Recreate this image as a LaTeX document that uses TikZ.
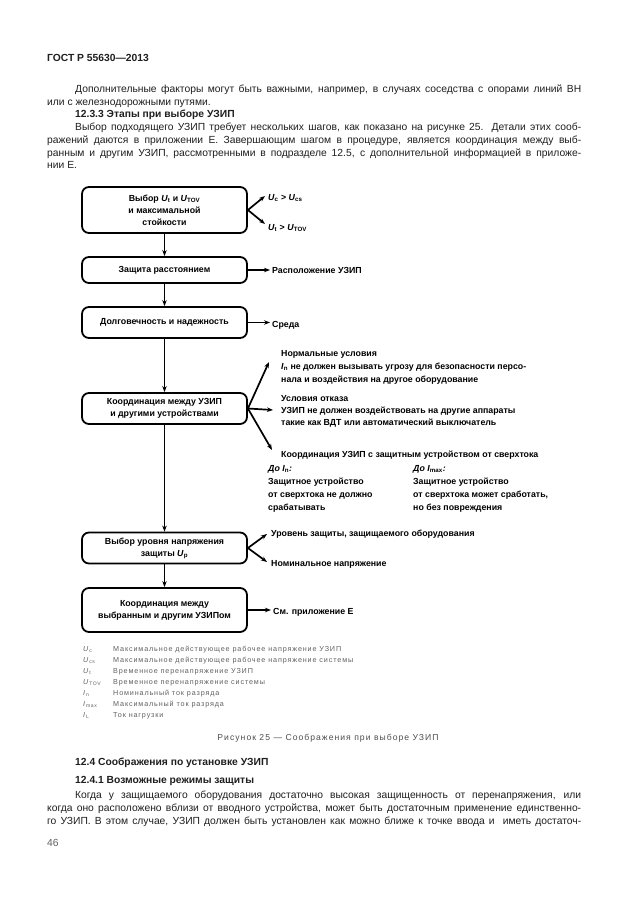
\documentclass[tikz,border=0pt]{standalone}
\usepackage{fontspec}
\setmainfont{Liberation Sans}
\newfontfamily\legfont[LetterSpace=12]{Liberation Sans}
\usetikzlibrary{arrows.meta}
\definecolor{ink}{gray}{0.12}
\definecolor{leg}{gray}{0.38}
\newcommand\bodysz{\fontsize{10.3}{12.7}\selectfont}
\newcommand\dsz{\fontsize{8.8}{12}\selectfont\bfseries}
\newcommand\jl[2]{\makebox[#1][s]{#2}}
\newcommand\sbs[1]{\textsubscript{#1}}
\begin{document}
\begin{tikzpicture}[x=1pt,y=-1pt,
  body/.style={anchor=base west, inner sep=0pt, font=\bodysz, text=ink},
  legt/.style={anchor=base west, inner sep=0pt, font=\legfont\fontsize{7.2}{9}\selectfont, text=leg},
  box/.style={draw, line width=1.8pt, rounded corners=7pt, minimum width=165pt, align=center, font=\dsz, inner sep=2pt},
  arr/.style={line width=1.7pt, -{Stealth[length=6pt,width=4.5pt]}},
  lbl/.style={anchor=base west, inner sep=0pt, font=\dsz},
]
\useasboundingbox[fill=white] (0,0) rectangle (630,913);

% ---- header and text above ----
\node[body] (hdr) at (47,61) {\bfseries ГОСТ Р 55630—2013};
\node[body] (p1) at (75,92.5) {\jl{506pt}{Дополнительные факторы могут быть важными, например, в случаях соседства с опорами линий ВН}};
\node[body] (p2) at (47,105.2) {или с железнодорожными путями.};
\node[body] (p3) at (75,117.9) {\bfseries 12.3.3 Этапы при выборе УЗИП};
\node[body] (p4) at (75,130.6) {\jl{506pt}{Выбор подходящего УЗИП требует нескольких шагов, как показано на рисунке 25. Детали этих сооб-}};
\node[body] (p5) at (47,143.3) {\jl{534pt}{ражений даются в приложении Е. Завершающим шагом в процедуре, является координация между выб-}};
\node[body] (p6) at (47,156) {\jl{534pt}{ранным и другим УЗИП, рассмотренными в подразделе 12.5, с дополнительной информацией в приложе-}};
\node[body] (p7) at (47,168.7) {нии Е.};

% ---- boxes ----
\node[box, minimum height=46pt] (b1) at (164.5,210) {Выбор \textit{U}\sbs{t} и \textit{U}\sbs{TOV}\\и максимальной\\стойкости};
\node[box, minimum height=26pt] (b2) at (164.5,270) {Защита расстоянием};
\node[box, minimum height=31pt] (b3) at (164.5,322.5) {Долговечность и надежность};
\node[box, minimum height=31pt] (b4) at (164.5,408.5) {Координация между УЗИП\\и другими устройствами};
\node[box, minimum height=31pt] (b5) at (164.5,548) {Выбор уровня напряжения\\защиты \textit{U}\sbs{p}};
\node[box, minimum height=44pt] (b6) at (164.5,610) {Координация между\\выбранным и другим УЗИПом};

\draw[arr] (b1) -- (b2);
\draw[arr] (b2) -- (b3);
\draw[arr] (b3) -- (b4);
\draw[arr] (b4) -- (b5);
\draw[arr] (b5) -- (b6);

% ---- right side of box 1 ----
\node[lbl] (r1a) at (268,200) {\textit{U}\sbs{c} > \textit{U}\sbs{cs}};
\node[lbl] (r1b) at (268,230) {\textit{U}\sbs{t} > \textit{U}\sbs{TOV}};
\coordinate (t1a) at (265,196);
\coordinate (t1b) at (265,224);
\draw[arr] (b1.east) -- (t1a);
\draw[arr] (b1.east) -- (t1b);

% ---- boxes 2, 3 ----
\node[lbl] (r2) at (272,273) {Расположение УЗИП};
\coordinate (t2) at (270,270);
\draw[arr] (b2.east) -- (t2);
\node[lbl] (r3) at (272,327) {Среда};
\coordinate (t3) at (270,322.5);
\draw[arr] (b3.east) -- (t3);

% ---- box 4 ----
\node[lbl] (n1) at (281,356) {Нормальные условия};
\node[lbl] (n2) at (281,369.5) {\textit{I}\sbs{n} не должен вызывать угрозу для безопасности персо-};
\node[lbl] (n3) at (281,382) {нала и воздействия на другое оборудование};
\node[lbl] (f1) at (281,401) {Условия отказа};
\node[lbl] (f2) at (281,413) {УЗИП не должен воздействовать на другие аппараты};
\node[lbl] (f3) at (281,425) {такие как ВДТ или автоматический выключатель};
\node[lbl] (c1) at (281,457) {Координация УЗИП с защитным устройством от сверхтока};
\node[lbl] (c2) at (268,471) {\textit{До I}\sbs{n}\textit{:}};
\node[lbl] (c3) at (268,484) {Защитное устройство};
\node[lbl] (c4) at (268,497) {от сверхтока не должно};
\node[lbl] (c5) at (268,510) {срабатывать};
\node[lbl] (d2) at (413,471) {\textit{До I}\sbs{max}\textit{:}};
\node[lbl] (d3) at (413,484) {Защитное устройство};
\node[lbl] (d4) at (413,497) {от сверхтока может сработать,};
\node[lbl] (d5) at (413,510) {но без повреждения};
\coordinate (t4a) at (269,362);
\coordinate (t4b) at (273,410);
\coordinate (t4c) at (272,450);
\draw[arr] (b4.east) -- (t4a);
\draw[arr] (b4.east) -- (t4b);
\draw[arr] (b4.east) -- (t4c);

% ---- box 5 ----
\node[lbl] (r5a) at (271,536) {Уровень защиты, защищаемого оборудования};
\node[lbl] (r5b) at (271,566) {Номинальное напряжение};
\coordinate (t5a) at (267,534);
\coordinate (t5b) at (267,562);
\draw[arr] (b5.east) -- (t5a);
\draw[arr] (b5.east) -- (t5b);

% ---- box 6 ----
\node[lbl] (r6) at (273,614) {См. приложение Е};
\coordinate (t6) at (271,610);
\draw[arr] (b6.east) -- (t6);

% ---- legend ----
\node[legt] (s1) at (83,651.5) {\textit{U}\sbs{c}};
\node[legt] (s2) at (83,662.5) {\textit{U}\sbs{cs}};
\node[legt] (s3) at (83,673.5) {\textit{U}\sbs{t}};
\node[legt] (s4) at (83,684.5) {\textit{U}\sbs{TOV}};
\node[legt] (s5) at (83,695.5) {\textit{I}\sbs{n}};
\node[legt] (s6) at (83,706.5) {\textit{I}\sbs{max}};
\node[legt] (s7) at (83,717.5) {\textit{I}\sbs{L}};
\node[legt] (e1) at (113,651.5) {Максимальное действующее рабочее напряжение УЗИП};
\node[legt] (e2) at (113,662.5) {Максимальное действующее рабочее напряжение системы};
\node[legt] (e3) at (113,673.5) {Временное перенапряжение УЗИП};
\node[legt] (e4) at (113,684.5) {Временное перенапряжение системы};
\node[legt] (e5) at (113,695.5) {Номинальный ток разряда};
\node[legt] (e6) at (113,706.5) {Максимальный ток разряда};
\node[legt] (e7) at (113,717.5) {Ток нагрузки};

\node[anchor=base, inner sep=0pt, text=leg!80!black, font=\legfont\fontsize{8.6}{10}\selectfont] (cap) at (328,740) {Рисунок 25 — Соображения при выборе УЗИП};

% ---- text below ----
\node[body] (q1) at (75,765.5) {\bfseries 12.4 Соображения по установке УЗИП};
\node[body] (q2) at (75,783.5) {\bfseries 12.4.1 Возможные режимы защиты};
\node[body] (q3) at (75,798.5) {\jl{506pt}{Когда у защищаемого оборудования достаточно высокая защищенность от перенапряжения, или}};
\node[body] (q4) at (47,811.5) {\jl{534pt}{когда оно расположено вблизи от вводного устройства, может быть достаточным применение единственно-}};
\node[body] (q5) at (47,824.5) {\jl{534pt}{го УЗИП. В этом случае, УЗИП должен быть установлен как можно ближе к точке ввода и\ \ иметь достаточ-}};
\node[body, text=leg] (pg) at (47,846.5) {46};
\end{tikzpicture}
\end{document}
